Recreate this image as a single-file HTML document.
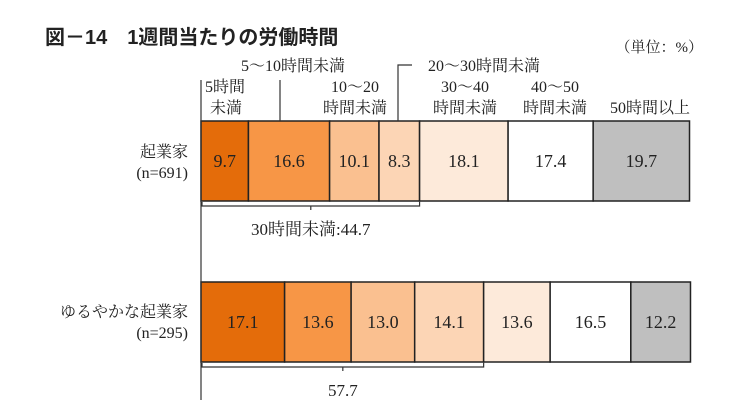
<!DOCTYPE html>
<html><head><meta charset="utf-8"><style>
html,body{margin:0;padding:0;background:#fff;}
svg text{font-family:"Liberation Serif","Noto Serif CJK SC",serif;fill:#222;}
</style></head><body>
<svg width="747" height="412" viewBox="0 0 747 412">
<text x="45" y="44" font-size="20" font-weight="bold" style="font-family:'Liberation Sans','Noto Sans CJK JP',sans-serif">図－14　1週間当たりの労働時間</text>
<text x="703" y="52" font-size="15" text-anchor="end">（単位：%）</text>
<g id="bars"></g>
<g id="annot" stroke="#333" fill="none" stroke-width="1.2">
  <line x1="201" y1="80" x2="201" y2="400"/>
  <line x1="280" y1="80" x2="280" y2="121"/>
  <polyline points="412,65 398,65 398,121"/>
</g>
<g font-size="16" text-anchor="middle">
  <text x="225" y="92">5時間</text>
  <text x="226" y="113">未満</text>
  <text x="293" y="71">5～10時間未満</text>
  <text x="355" y="92">10～20</text>
  <text x="355" y="113">時間未満</text>
  <text x="484" y="71">20～30時間未満</text>
  <text x="465" y="92">30～40</text>
  <text x="465" y="113">時間未満</text>
  <text x="555" y="92">40～50</text>
  <text x="555" y="113">時間未満</text>
  <text x="650" y="113">50時間以上</text>
</g>
<g font-size="16" text-anchor="end">
  <text x="188" y="157">起業家</text>
  <text x="188" y="178">(n=691)</text>
  <text x="188" y="317">ゆるやかな起業家</text>
  <text x="188" y="338">(n=295)</text>
</g>
<g id="brackets"></g>
</svg>
<script>
const categories=["5時間未満","5～10時間未満","10～20時間未満","20～30時間未満","30～40時間未満","40～50時間未満","50時間以上"];
const rows=["起業家","ゆるやかな起業家"];
const entrepreneurValues=[9.7,16.6,10.1,8.3,18.1,17.4,19.7];
const looseValues=[17.1,13.6,13.0,14.1,13.6,16.5,12.2];
const bracketLabels=["30時間未満:44.7","57.7"];
const bracketCounts=[4,4];
const colors=["#e46c0a","#f79646","#fac090","#fcd5b5","#fdeada","#ffffff","#bfbfbf"];
const NS="http://www.w3.org/2000/svg";
const x0=201,x1=690;
const sx=v=>v*(x1-x0)/100;
const rowY=[121,282],rowH=80;
const gb=document.getElementById('bars'),gr=document.getElementById('brackets');
[entrepreneurValues,looseValues].forEach((vals,ri)=>{
  let cx=x0;
  const ends=[];
  vals.forEach((v,i)=>{
    const w=sx(v);
    const r=document.createElementNS(NS,'rect');
    r.setAttribute('x',cx);r.setAttribute('y',rowY[ri]);r.setAttribute('width',w);r.setAttribute('height',rowH);
    r.setAttribute('fill',colors[i]);r.setAttribute('stroke','#222');r.setAttribute('stroke-width','1.5');
    
    
    gb.appendChild(r);
    const t=document.createElementNS(NS,'text');
    t.setAttribute('x',cx+w/2);t.setAttribute('y',rowY[ri]+rowH/2+6);t.setAttribute('font-size','18');t.setAttribute('text-anchor','middle');
    t.textContent=v.toFixed(1);
    
    
    gb.appendChild(t);
    cx+=w;ends.push(cx);
  });
  const be=ends[bracketCounts[ri]-1];
  const by=rowY[ri]+rowH+5;
  const p=document.createElementNS(NS,'path');
  const mid=(x0+1+be)/2;
  p.setAttribute('d',`M${x0+1},${by-4}V${by}H${be}V${by-4}M${mid},${by}V${by+4}`);
  p.setAttribute('stroke','#333');p.setAttribute('fill','none');p.setAttribute('stroke-width','1.2');
  
  
  gr.appendChild(p);
  const t=document.createElementNS(NS,'text');
  t.setAttribute('x',mid);t.setAttribute('y',by+29);t.setAttribute('font-size','17');t.setAttribute('text-anchor','middle');
  t.textContent=bracketLabels[ri];
  
  
  gr.appendChild(t);
});
</script>
</body></html>
